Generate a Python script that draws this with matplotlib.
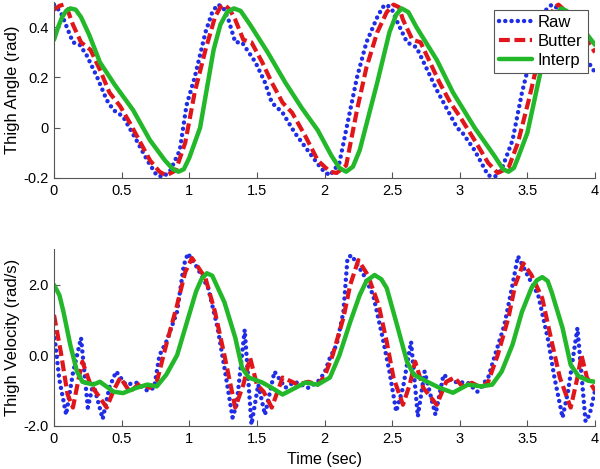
import matplotlib
matplotlib.use("Agg")
import matplotlib.pyplot as plt

plt.rcParams["font.family"] = ["Liberation Sans", "DejaVu Sans"]

# thigh angle (rad)
t_ang_raw = [0, 0.05, 0.14, 0.19, 0.24, 0.32, 0.39, 0.44, 0.51, 0.61, 0.69, 0.76,
             0.81, 0.86, 0.93, 0.98, 1.04, 1.12, 1.17, 1.21, 1.25, 1.29, 1.34,
             1.39, 1.49, 1.56, 1.61, 1.69, 1.78, 1.91, 1.98, 2.04, 2.11, 2.19,
             2.24, 2.31, 2.39, 2.43, 2.46, 2.50, 2.53, 2.61, 2.68, 2.76, 2.83,
             2.88, 2.98, 3.02, 3.11, 3.21, 3.26, 3.31, 3.39, 3.46, 3.52, 3.60,
             3.64, 3.68, 3.74, 3.80, 3.87, 3.94, 4.0]
ang_raw = [0.49, 0.46, 0.34, 0.33, 0.29, 0.20, 0.11, 0.07, 0.045, -0.05, -0.13,
           -0.19, -0.195, -0.17, -0.09, 0.09, 0.20, 0.38, 0.46, 0.49, 0.48,
           0.43, 0.34, 0.34, 0.26, 0.18, 0.10, 0.06, -0.02, -0.115, -0.165,
           -0.19, -0.14, 0.07, 0.20, 0.34, 0.44, 0.48, 0.49, 0.47, 0.43, 0.34,
           0.32, 0.23, 0.15, 0.10, 0.0, -0.02, -0.09, -0.19, -0.195, -0.165,
           -0.05, 0.14, 0.27, 0.42, 0.47, 0.49, 0.47, 0.37, 0.34, 0.27, 0.22]

t_ang_butter = [0, 0.04, 0.07, 0.10, 0.14, 0.2, 0.27, 0.34, 0.41, 0.49, 0.56,
                0.64, 0.71, 0.78, 0.83, 0.9, 0.97, 1.04, 1.12, 1.19, 1.23, 1.26,
                1.30, 1.34, 1.40, 1.46, 1.54, 1.61, 1.69, 1.76, 1.86, 1.95, 2.04,
                2.09, 2.16, 2.24, 2.31, 2.39, 2.46, 2.51, 2.55, 2.58, 2.65, 2.71,
                2.78, 2.85, 2.93, 3.0, 3.11, 3.21, 3.28, 3.36, 3.43, 3.51, 3.58,
                3.66, 3.70, 3.73, 3.77, 3.80, 3.88, 3.95, 4.0]
ang_butter = [0.47, 0.485, 0.49, 0.47, 0.41, 0.34, 0.31, 0.23, 0.14, 0.085,
              0.02, -0.06, -0.13, -0.175, -0.19, -0.17, -0.06, 0.14, 0.31, 0.44,
              0.48, 0.49, 0.47, 0.43, 0.35, 0.34, 0.26, 0.18, 0.10, 0.06, -0.035,
              -0.13, -0.175, -0.18, -0.15, 0.07, 0.24, 0.38, 0.46, 0.49, 0.48,
              0.43, 0.35, 0.34, 0.26, 0.18, 0.10, 0.045, -0.05, -0.14, -0.18,
              -0.16, -0.06, 0.11, 0.27, 0.43, 0.48, 0.49, 0.47, 0.43, 0.35, 0.34,
              0.30]

t_ang_interp = [0, 0.03, 0.06, 0.09, 0.12, 0.16, 0.2, 0.26, 0.34, 0.45, 0.585,
                0.71, 0.82, 0.88, 0.92, 0.96, 1.0, 1.08, 1.18, 1.23, 1.28, 1.33,
                1.38, 1.45, 1.58, 1.71, 1.83, 1.95, 2.05, 2.11, 2.16, 2.21, 2.26,
                2.39, 2.48, 2.53, 2.57, 2.62, 2.68, 2.83, 2.95, 3.11, 3.26, 3.32,
                3.36, 3.40, 3.43, 3.50, 3.58, 3.66, 3.71, 3.75, 3.79, 3.82, 3.9,
                4.0]
ang_interp = [0.35, 0.40, 0.44, 0.465, 0.475, 0.47, 0.44, 0.37, 0.26, 0.17,
              0.07, -0.05, -0.13, -0.165, -0.175, -0.165, -0.12, 0.0, 0.31, 0.41,
              0.46, 0.475, 0.465, 0.41, 0.30, 0.18, 0.08, -0.01, -0.11, -0.16,
              -0.175, -0.155, -0.09, 0.18, 0.38, 0.45, 0.475, 0.46, 0.40, 0.27,
              0.14, 0.0, -0.115, -0.165, -0.175, -0.16, -0.12, -0.02, 0.18, 0.38,
              0.45, 0.475, 0.465, 0.45, 0.40, 0.33]

# thigh velocity (rad/s)
t_vel_raw = [0, 0.04, 0.09, 0.14, 0.2, 0.25, 0.29, 0.36, 0.41, 0.46, 0.53, 0.61,
             0.69, 0.74, 0.78, 0.83, 0.91, 0.96, 0.99, 1.06, 1.14, 1.21, 1.26,
             1.32, 1.35, 1.41, 1.46, 1.51, 1.56, 1.63, 1.71, 1.78, 1.88, 1.95,
             2.0, 2.04, 2.09, 2.14, 2.17, 2.2, 2.29, 2.36, 2.43, 2.48, 2.53,
             2.58, 2.64, 2.69, 2.74, 2.82, 2.88, 2.95, 3.06, 3.13, 3.21, 3.26,
             3.33, 3.39, 3.43, 3.5, 3.58, 3.65, 3.7, 3.76, 3.8, 3.87, 3.93,
             3.96, 4.0]
vel_raw = [0.66, -0.7, -1.68, -0.5, 0.49, -1.48, -0.8, -1.8, -0.9, -0.46, -0.83,
           -0.78, -1.0, -0.92, 0.0, 0.38, 1.23, 2.55, 2.88, 2.47, 1.9, 0.77,
           -0.35, -1.76, -1.4, 0.72, -1.96, -0.83, -1.68, -0.46, -0.92, -0.75,
           -0.92, -0.75, -0.5, -0.07, 0.3, 1.23, 2.75, 2.83, 2.27, 1.7, 0.49,
           -0.46, -1.59, -0.92, 0.38, -1.73, -0.46, -1.68, -0.55, -0.75, -0.78,
           -1.03, -0.63, 0.0, 0.86, 1.99, 2.8, 2.27, 1.7, 0.49, -0.63, -1.76,
           -1.03, 0.77, -1.87, -1.68, -1.0]

t_vel_butter = [0, 0.05, 0.1, 0.14, 0.18, 0.21, 0.27, 0.33, 0.39, 0.44, 0.49,
                0.56, 0.64, 0.71, 0.76, 0.83, 0.91, 0.97, 1.02, 1.12, 1.19, 1.26,
                1.34, 1.40, 1.45, 1.50, 1.55, 1.61, 1.69, 1.76, 1.80, 1.88, 1.95,
                2.0, 2.06, 2.14, 2.19, 2.25, 2.32, 2.40, 2.46, 2.51, 2.58, 2.63,
                2.67, 2.73, 2.83, 2.90, 2.96, 3.02, 3.09, 3.16, 3.21, 3.28, 3.36,
                3.41, 3.47, 3.53, 3.61, 3.68, 3.74, 3.82, 3.87, 3.90, 3.94, 4.0]
vel_butter = [1.14, 0.1, -1.1, -1.48, -0.7, -0.18, -0.83, -1.15, -1.48, -1.0,
              -0.63, -1.03, -0.78, -0.92, -0.75, 0.3, 1.42, 2.35, 2.75, 2.18,
              1.23, 0.0, -1.48, -0.83, -0.07, -0.83, -1.03, -1.48, -0.63, -0.75,
              -0.83, -0.75, -0.83, -0.6, 0.0, 1.06, 1.99, 2.69, 2.27, 1.42, 0.38,
              -0.63, -1.4, -0.83, -0.18, -0.92, -1.4, -0.75, -0.63, -0.88, -0.78,
              -0.92, -0.75, 0.0, 1.06, 1.99, 2.6, 2.27, 1.61, 0.38, -0.63, -1.48,
              -0.63, 0.0, -0.63, -1.0]

t_vel_interp = [0, 0.04, 0.07, 0.12, 0.17, 0.21, 0.29, 0.34, 0.44, 0.51, 0.61,
                0.69, 0.76, 0.83, 0.91, 0.98, 1.05, 1.09, 1.13, 1.17, 1.2, 1.26,
                1.34, 1.39, 1.44, 1.54, 1.61, 1.69, 1.76, 1.86, 1.95, 2.04, 2.11,
                2.19, 2.26, 2.31, 2.37, 2.42, 2.46, 2.53, 2.61, 2.66, 2.76, 2.85,
                2.95, 3.06, 3.16, 3.24, 3.31, 3.39, 3.46, 3.53, 3.57, 3.61, 3.65,
                3.68, 3.76, 3.82, 3.88, 3.95, 4.0]
vel_interp = [1.99, 1.7, 1.23, 0.3, -0.46, -0.75, -0.83, -0.75, -1.03, -1.07,
              -0.92, -0.83, -0.88, -0.55, 0.0, 0.9, 1.8, 2.15, 2.32, 2.25, 2.0,
              1.5, 0.5, -0.35, -0.63, -0.77, -0.92, -1.11, -0.97, -0.77, -0.83,
              -0.63, 0.0, 0.94, 1.7, 2.1, 2.27, 2.15, 1.9, 0.94, -0.18, -0.55,
              -0.75, -0.92, -1.06, -0.83, -0.88, -0.83, -0.46, 0.3, 1.23, 1.9,
              2.12, 2.21, 2.1, 1.78, 0.77, -0.27, -0.6, -0.72, -0.75]

x_ticks = [0, 0.5, 1, 1.5, 2, 2.5, 3, 3.5, 4]
x_tick_labels = ["0", "0.5", "1", "1.5", "2", "2.5", "3", "3.5", "4"]
ang_ticks = [-0.2, 0, 0.2, 0.4]
ang_tick_labels = ["-0.2", "0", "0.2", "0.4"]
vel_ticks = [-2, 0, 2]
vel_tick_labels = ["-2.0", "0.0", "2.0"]

BLUE = "#1f2de6"
RED = "#e0161b"
GREEN = "#22b82a"


def style_axes(ax):
    ax.spines["top"].set_visible(False)
    ax.spines["right"].set_visible(False)
    for s in ("left", "bottom"):
        ax.spines[s].set_color("#555555")
        ax.spines[s].set_linewidth(0.8)
    ax.tick_params(direction="in", length=4, width=0.8, color="#555555",
                   labelsize=10.5, pad=4)
    ax.set_xlim(0, 4)
    ax.set_xticks(x_ticks)
    ax.set_xticklabels(x_tick_labels)


def draw(ax, series):
    for (tt, vv, color, ls, lw, label) in series:
        ax.plot(tt, vv, color=color, linestyle=ls, linewidth=lw, label=label,
                solid_capstyle="round", solid_joinstyle="round")


fig = plt.figure(figsize=(6.0, 4.69), dpi=100)
ax1 = fig.add_axes([0.09, 0.6205, 0.9017, 0.375])
ax2 = fig.add_axes([0.09, 0.0917, 0.9017, 0.377])

dot = (0, (0.01, 1.4))
dash = (0, (2.6, 1.1))

draw(ax1, [
    (t_ang_raw, ang_raw, BLUE, dot, 3.2, "Raw"),
    (t_ang_butter, ang_butter, RED, dash, 3.0, "Butter"),
    (t_ang_interp, ang_interp, GREEN, "-", 3.2, "Interp"),
])
draw(ax2, [
    (t_vel_raw, vel_raw, BLUE, dot, 3.2, "Raw"),
    (t_vel_butter, vel_butter, RED, dash, 3.0, "Butter"),
    (t_vel_interp, vel_interp, GREEN, "-", 3.2, "Interp"),
])
for ax in (ax1, ax2):
    for ln in ax.get_lines()[:1]:
        ln.set_dash_capstyle("round")

style_axes(ax1)
ax1.set_ylim(-0.2, 0.5)
ax1.set_yticks(ang_ticks)
ax1.set_yticklabels(ang_tick_labels)
ax1.set_ylabel("Thigh Angle (rad)", fontsize=12, labelpad=2)

style_axes(ax2)
ax2.set_ylim(-2, 3)
ax2.set_yticks(vel_ticks)
ax2.set_yticklabels(vel_tick_labels)
ax2.set_ylabel("Thigh Velocity (rad/s)", fontsize=12, labelpad=2)
ax2.set_xlabel("Time (sec)", fontsize=11.5, labelpad=5)

leg = ax1.legend(loc="upper right", fontsize=12, frameon=True, fancybox=False,
                 framealpha=1, edgecolor="#555555", borderaxespad=0.45,
                 handlelength=2.0, handletextpad=0.35, borderpad=0.3,
                 labelspacing=0.25)
leg.get_frame().set_linewidth(0.8)

fig.savefig("out.png", dpi=100)
